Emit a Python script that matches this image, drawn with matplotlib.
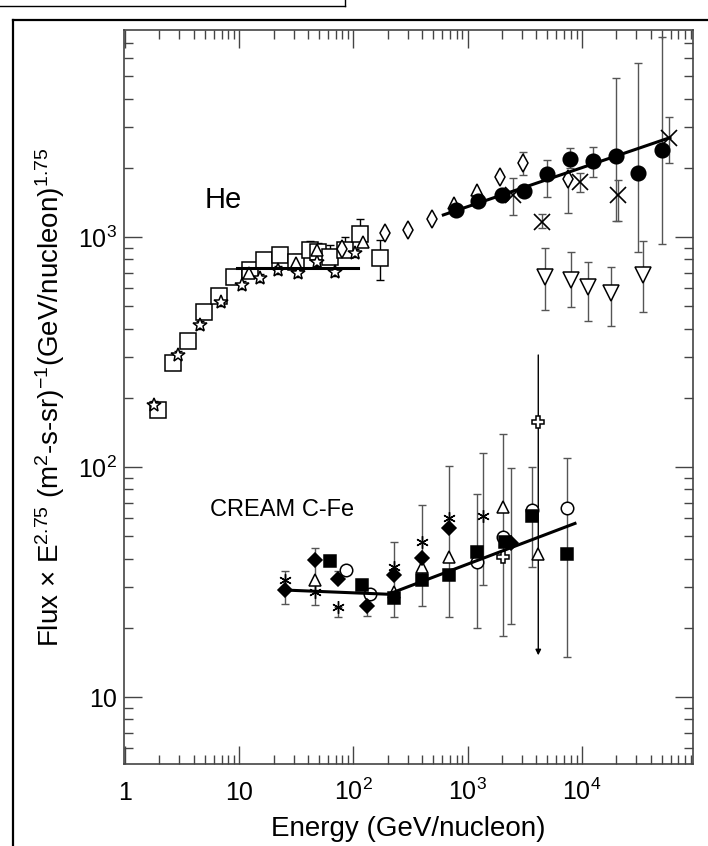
import matplotlib
matplotlib.use("Agg")
import matplotlib.pyplot as plt
from matplotlib.lines import Line2D
from matplotlib.ticker import NullFormatter
import numpy as np

plt.rcParams["font.family"] = ["Liberation Sans", "DejaVu Sans"]
plt.rcParams["mathtext.fontset"] = "custom"
plt.rcParams["mathtext.rm"] = "Liberation Sans"
plt.rcParams["mathtext.default"] = "regular"

# ---------------- He ----------------
# open squares
he_sq_e = [1.96, 2.65, 3.58, 4.92, 6.65, 9.06, 12.4, 16.6, 22.8, 31.4, 41.7, 49.3, 62.4, 84.4, 114, 171]
he_sq_f = [177, 282, 353, 473, 553, 668, 719, 794, 836, 782, 878, 863, 816, 878, 1027, 808]
he_sq_lo = [177, 282, 353, 473, 553, 668, 719, 794, 836, 782, 878, 863, 816, 878, 1027, 650]
he_sq_hi = [177, 282, 353, 473, 553, 668, 719, 794, 893, 841, 963, 944, 923, 1003, 1197, 970]

# open stars
he_star_e = [1.81, 2.93, 4.54, 6.89, 10.5, 15.2, 22.0, 33.0, 47.7, 69.0, 103]
he_star_f = [186, 307, 414, 524, 618, 661, 719, 695, 782, 707, 849]

# open triangles
he_tri_e = [12.3, 31.4, 48.3, 122, 760, 1216]
he_tri_f = [700, 773, 878, 954, 1402, 1600]

# open diamonds
he_dia_e = [79, 189, 303, 485, 1923, 3076, 7620]
he_dia_f = [884, 1038, 1072, 1197, 1829, 2104, 1782]
he_dia_lo = [884, 1038, 1072, 1197, 1829, 1862, 1271]
he_dia_hi = [884, 1038, 1072, 1197, 1829, 2350, 1782]

# filled circles (CREAM He)
he_cir_e = [787, 1241, 1990, 3140, 4930, 7880, 12450, 19950, 31300, 50100]
he_cir_f = [1310, 1438, 1524, 1590, 1880, 2183, 2140, 2250, 1903, 2389]
he_cir_lo = [1310, 1438, 1524, 1590, 1493, 1990, 1818, 1178, 863, 932]
he_cir_hi = [1310, 1438, 1524, 1590, 2163, 2438, 2455, 4900, 5700, 7400]

# crosses
he_x_e = [2483, 4455, 9640, 20900, 58400]
he_x_f = [1524, 1166, 1740, 1524, 2704]
he_x_lo = [1246, 1091, 1574, 1178, 2090]
he_x_hi = [1800, 1259, 1903, 1770, 3334]

# open inverted triangles
he_inv_e = [4760, 7990, 11400, 17900, 34500]
he_inv_f = [672, 650, 608, 573, 684]
he_inv_lo = [482, 498, 433, 411, 471]
he_inv_hi = [893, 863, 776, 743, 961]

# fits
he_fit_lo_e = [9.5, 110]
he_fit_lo_f = [735, 735]
he_fit_hi_e = [613, 59200]
he_fit_hi_f = [1247, 2704]

# ---------------- CREAM C-Fe ----------------
cfe_dia_e = [25.2, 46.1, 73.8, 131, 227, 396, 687, 2385]
cfe_dia_f = [29.2, 39.4, 32.6, 24.9, 33.9, 40.1, 54.5, 46.6]
cfe_dia_lo = [25.4, 25.1, 32.6, 22.6, 22.4, 24.9, 22.3, 20.8]
cfe_dia_hi = [35.4, 44.3, 35.4, 28.0, 47.1, 68.4, 101, 99.4]

cfe_ast_e = [25.2, 46.1, 73.8, 227, 396, 687, 1372]
cfe_ast_f = [32.3, 28.7, 24.7, 36.6, 47.3, 59.8, 61.2]
cfe_ast_lo = [32.3, 28.7, 22.2, 36.6, 47.3, 59.8, 30.7]
cfe_ast_hi = [32.3, 28.7, 24.7, 36.6, 47.3, 59.8, 115]

cfe_tri_e = [46.1, 227, 396, 687, 2055, 4160]
cfe_tri_f = [32.3, 28.7, 36.9, 40.7, 67.1, 41.9]

cfe_sq_e = [62.4, 118, 227, 396, 687, 1202, 2126, 3640, 7380]
cfe_sq_f = [39.0, 30.7, 26.9, 32.3, 33.9, 42.8, 47.3, 61.2, 41.9]
cfe_sq_lo = [39.0, 30.7, 26.9, 32.3, 33.9, 19.9, 47.3, 36.9, 15.0]
cfe_sq_hi = [39.0, 30.7, 26.9, 32.3, 33.9, 76.3, 47.3, 100, 109]

cfe_cir_e = [86.1, 140, 1202, 2055, 3640, 7380]
cfe_cir_f = [35.7, 28.2, 38.7, 49.8, 65.0, 66.1]
cfe_cir_lo = [35.7, 28.2, 38.7, 18.5, 65.0, 66.1]
cfe_cir_hi = [35.7, 28.2, 38.7, 139, 65.0, 66.1]

cfe_plus_e = [2055, 4160]
cfe_plus_f = [40.7, 157]
cfe_plus_top = 307
cfe_plus_arrow = 15.2

cfe_fit_e = [25.2, 202, 8720]
cfe_fit_f = [29.2, 28.0, 56.9]

x_ticks = [1, 10, 100, 1000, 10000]
x_tick_labels = ["1", "10", "$10^2$", "$10^3$", "$10^4$"]
y_ticks = [10, 100, 1000]
y_tick_labels = ["10", "$10^2$", "$10^3$"]

BAR = "#555555"


def errbars(ax, e, f, lo, hi, color=BAR):
    e, f, lo, hi = map(np.asarray, (e, f, lo, hi))
    m = (lo < f) | (hi > f)
    if m.any():
        ax.errorbar(e[m], f[m], yerr=[f[m] - lo[m], hi[m] - f[m]], fmt="none",
                    ecolor=color, elinewidth=1.0, capsize=3, capthick=1.0, zorder=2)


def pts(ax, e, f, marker, ms, filled=False, z=3, mew=1.1):
    ax.plot(e, f, linestyle="none", marker=marker, ms=ms, mec="black",
            mfc="black" if filled else "white", mew=mew, zorder=z)


fig = plt.figure(figsize=(7.08, 8.46), dpi=100)
ax = fig.add_axes([124 / 708, 1 - 764 / 846, (693 - 124) / 708, (764 - 30) / 846])
ax.set_xscale("log")
ax.set_yscale("log")

# He
errbars(ax, he_sq_e, he_sq_f, he_sq_lo, he_sq_hi, color="black")
pts(ax, he_sq_e, he_sq_f, "s", 11)
star_f = np.asarray(he_star_f)
ax.errorbar(he_star_e, he_star_f, yerr=[star_f * 0.04, star_f * 0.04], fmt="none",
            ecolor="black", elinewidth=0.8, capsize=3, zorder=2)
pts(ax, he_star_e, he_star_f, "*", 10, z=4)
pts(ax, he_tri_e, he_tri_f, "^", 8, z=4)
errbars(ax, he_dia_e, he_dia_f, he_dia_lo, he_dia_hi)
pts(ax, he_dia_e, he_dia_f, "d", 9, z=4)
errbars(ax, he_cir_e, he_cir_f, he_cir_lo, he_cir_hi)
pts(ax, he_cir_e, he_cir_f, "o", 10.5, filled=True, z=4)
errbars(ax, he_x_e, he_x_f, he_x_lo, he_x_hi)
pts(ax, he_x_e, he_x_f, "x", 11, z=4, mew=1.2)
errbars(ax, he_inv_e, he_inv_f, he_inv_lo, he_inv_hi)
pts(ax, he_inv_e, he_inv_f, "v", 11)
ax.plot(he_fit_lo_e, he_fit_lo_f, color="black", lw=2.2, zorder=5)
ax.plot(he_fit_hi_e, he_fit_hi_f, color="black", lw=2.2, zorder=5)

# C-Fe
errbars(ax, cfe_dia_e, cfe_dia_f, cfe_dia_lo, cfe_dia_hi)
errbars(ax, cfe_ast_e, cfe_ast_f, cfe_ast_lo, cfe_ast_hi)
errbars(ax, cfe_sq_e, cfe_sq_f, cfe_sq_lo, cfe_sq_hi)
errbars(ax, cfe_cir_e, cfe_cir_f, cfe_cir_lo, cfe_cir_hi)
ax.annotate("", xy=(cfe_plus_e[1], cfe_plus_arrow), xytext=(cfe_plus_e[1], cfe_plus_top),
            arrowprops=dict(arrowstyle="-|>", color="black", lw=1.0, mutation_scale=8,
                            shrinkA=0, shrinkB=0), zorder=2)
pts(ax, cfe_tri_e, cfe_tri_f, "^", 9)
pts(ax, cfe_cir_e, cfe_cir_f, "o", 9)
pts(ax, cfe_plus_e, cfe_plus_f, "P", 9)
pts(ax, cfe_sq_e, cfe_sq_f, "s", 8.5, filled=True, z=4)
pts(ax, cfe_dia_e, cfe_dia_f, "D", 7, filled=True, z=4)
pts(ax, cfe_ast_e, cfe_ast_f, (6, 2, 0), 9, z=4, mew=1.0)
ax.plot(cfe_fit_e, cfe_fit_f, color="black", lw=2.2, zorder=5)

ax.text(5.0, 1449, "He", fontsize=21, va="center", ha="left")
ax.text(5.55, 65, "CREAM C-Fe", fontsize=17, va="center", ha="left")

ax.set_xlim(0.98, 9.42e4)
ax.set_ylim(5.12, 7940)
ax.set_xticks(x_ticks)
ax.set_xticklabels(x_tick_labels)
ax.set_yticks(y_ticks)
ax.set_yticklabels(y_tick_labels)
ax.xaxis.set_minor_formatter(NullFormatter())
ax.yaxis.set_minor_formatter(NullFormatter())
ax.tick_params(which="both", direction="in", top=True, right=True, colors="#444444",
               labelcolor="black", labelsize=18)
ax.tick_params(which="major", length=13, width=1.0)
ax.tick_params(which="minor", length=6.5, width=1.0)
ax.tick_params(axis="x", which="major", pad=26)
ax.tick_params(axis="y", which="major", pad=5)
for lbl in ax.get_xticklabels():
    lbl.set_verticalalignment("baseline")
for sp in ax.spines.values():
    sp.set_color("#444444")
    sp.set_linewidth(1.2)

ax.set_xlabel("Energy (GeV/nucleon)", fontsize=20, labelpad=8)
ax.set_ylabel("Flux × E$^{2.75}$ (m$^2$-s-sr)$^{-1}$(GeV/nucleon)$^{1.75}$", fontsize=20, labelpad=8)

# frame of the scanned page
fig.add_artist(Line2D([13 / 708, 13 / 708], [0, 1 - 20 / 846], color="black", lw=1.6))
fig.add_artist(Line2D([13 / 708, 1], [1 - 20 / 846, 1 - 20 / 846], color="black", lw=1.6))
fig.add_artist(Line2D([0, 345 / 708], [1 - 6 / 846, 1 - 6 / 846], color="black", lw=1.0))
fig.add_artist(Line2D([345 / 708, 345 / 708], [1 - 6 / 846, 1], color="black", lw=1.0))

fig.savefig("out.png", dpi=100)
